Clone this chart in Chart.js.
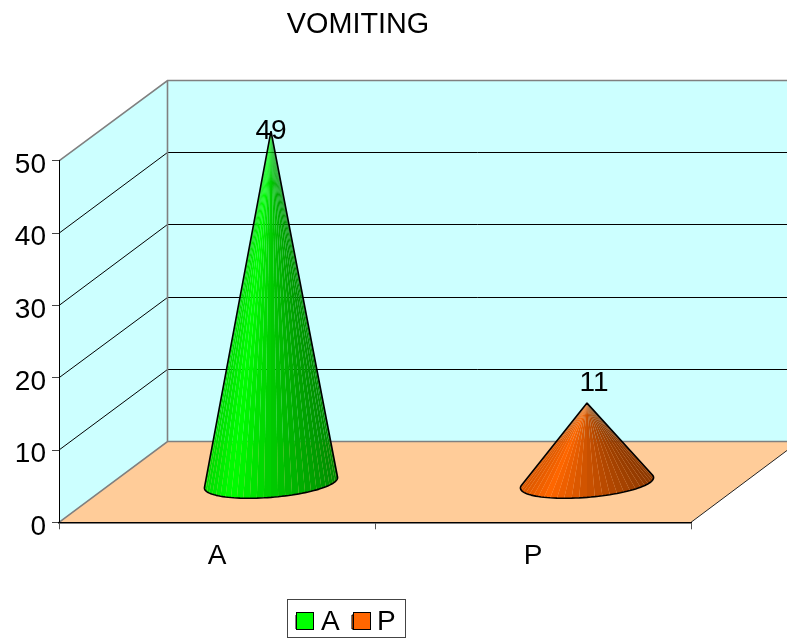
<!DOCTYPE html>
<html>
<head>
<meta charset="utf-8">
<style>html,body{margin:0;padding:0;background:#fff}canvas{display:block}</style>
<script src="https://cdn.jsdelivr.net/npm/chart.js@4"></script>
</head>
<body>
<canvas id="c" width="787" height="639"></canvas>
<script>
const categories = ['A', 'P'];
const values = [49, 11];
const colors = ['#00FF00', '#FF6600'];
const yTicks = [0, 10, 20, 30, 40, 50];
const chartTitle = 'VOMITING';

const FONT = '"Liberation Sans", Arial, sans-serif';
const FS = 28;
const DEPTH_X = 108, DEPTH_Y = 81;      // 3D depth of the box
const CONE_A = 66.8, CONE_B = 14.5, CONE_TILT = -0.082, CONE_N = 30, CONE_DROP = 1;
const LABEL_NUDGE = [{x: 0, y: 0}, {x: 7, y: -20}];

function lerpShade(f) {
  const k = [[0, .86], [.2, 1], [.5, .8], [1, .55]];
  for (let i = 1; i < k.length; i++) {
    if (f <= k[i][0]) {
      const a = k[i - 1], b = k[i];
      return a[1] + (b[1] - a[1]) * (f - a[0]) / (b[0] - a[0]);
    }
  }
  return k[k.length - 1][1];
}
function shadeHex(hex, k) {
  const n = parseInt(hex.slice(1), 16);
  return `rgb(${Math.round((n >> 16 & 255) * k)},${Math.round((n >> 8 & 255) * k)},${Math.round((n & 255) * k)})`;
}

function drawBox(chart) {
  const {ctx, chartArea: a, scales: {y}} = chart;
  const L = a.left, R = a.right, B = a.bottom, T = y.getPixelForValue(50);
  const backB = Math.round(B - DEPTH_Y) + .5, backT = Math.round(T - DEPTH_Y) + .5, backL = L + DEPTH_X + .5;
  ctx.save();
  // walls
  ctx.fillStyle = '#CCFFFF';
  ctx.beginPath();
  ctx.rect(backL, backT, R - L, backB - backT);
  ctx.fill();
  ctx.beginPath();
  ctx.moveTo(L, B); ctx.lineTo(L, T); ctx.lineTo(backL, backT); ctx.lineTo(backL, backB);
  ctx.closePath();
  ctx.fill();
  // floor
  ctx.fillStyle = '#FFCC99';
  ctx.beginPath();
  ctx.moveTo(L, B); ctx.lineTo(R, B); ctx.lineTo(R + DEPTH_X, backB); ctx.lineTo(backL, backB);
  ctx.closePath();
  ctx.fill();
  // grid lines on walls
  ctx.lineWidth = 1;
  ctx.strokeStyle = '#000';
  yTicks.forEach(v => {
    if (v === 0 || v === 50) return;
    const py = y.getPixelForValue(v);
    const by = Math.round(backB - (B - py) * (backB - backT) / (B - T) - .5) + .5;
    ctx.beginPath();
    ctx.moveTo(L, py);
    ctx.lineTo(backL, by);
    ctx.lineTo(R + DEPTH_X, by);
    ctx.stroke();
  });
  // wall frame
  ctx.strokeStyle = '#808080';
  ctx.lineWidth = 1.6;
  ctx.beginPath();
  ctx.moveTo(L, T); ctx.lineTo(backL, backT); ctx.lineTo(R + DEPTH_X, backT);
  ctx.moveTo(backL, backT); ctx.lineTo(backL, backB);
  ctx.moveTo(L, B); ctx.lineTo(backL, backB); ctx.lineTo(R + DEPTH_X, backB);
  ctx.stroke();
  // floor front-right edge
  ctx.strokeStyle = '#222';
  ctx.lineWidth = 1;
  ctx.beginPath();
  ctx.moveTo(R, B); ctx.lineTo(R + DEPTH_X, backB);
  ctx.stroke();
  ctx.restore();
}

function drawCone(ctx, cx, baseY, apexY, color) {
  const ct = Math.cos(CONE_TILT), st = Math.sin(CONE_TILT);
  const pt = t => {
    const u = CONE_A * Math.cos(t), v = CONE_B * Math.sin(t);
    return [cx + u * ct - v * st, baseY + u * st + v * ct];
  };
  // silhouette tangents from the apex
  const dy = apexY - baseY;
  const ux = (dy * st) / CONE_A, uy = (dy * ct) / CONE_B;
  const r = Math.hypot(ux, uy), phi = Math.atan2(uy, ux), d = Math.acos(1 / r);
  const t1 = phi + d, t2 = phi - d + Math.PI * 2;
  const p1 = pt(t1), p2 = pt(t2);
  const xMin = Math.min(p1[0], p2[0]), xMax = Math.max(p1[0], p2[0]);
  for (let i = 0; i < CONE_N; i++) {
    const a = t1 + (t2 - t1) * i / CONE_N, b = t1 + (t2 - t1) * (i + 1) / CONE_N;
    const pa = pt(a), pb = pt(b);
    const f = ((pa[0] + pb[0]) / 2 - xMin) / (xMax - xMin);
    ctx.fillStyle = shadeHex(color, lerpShade(f));
    ctx.beginPath();
    ctx.moveTo(cx, apexY); ctx.lineTo(pa[0], pa[1]); ctx.lineTo(pb[0], pb[1]);
    ctx.closePath();
    ctx.fill();
  }
  ctx.strokeStyle = '#000';
  ctx.lineWidth = 1.6;
  ctx.lineJoin = 'bevel';
  ctx.beginPath();
  ctx.moveTo(cx, apexY);
  for (let i = 0; i <= 60; i++) {
    const p = pt(t1 + (t2 - t1) * i / 60);
    ctx.lineTo(p[0], p[1]);
  }
  ctx.closePath();
  ctx.stroke();
}

const box3d = {
  id: 'box3d',
  afterLayout(chart) {
    const t = chart.titleBlock;
    t.left = 0; t.right = 716; t.top = 8; t.bottom = 42;
    const l = chart.legend;
    l.left = 283.7; l.right = 420; l.top = 595.7; l.bottom = 650;
  },
  beforeDraw(chart) { drawBox(chart); },
  beforeDatasetDraw(chart, args) {
    const {ctx, scales: {y}} = chart;
    const meta = args.meta;
    const baseY = y.getPixelForValue(0) - DEPTH_Y / 2;
    ctx.save();
    meta.data.forEach((el, i) => {
      const apexY = baseY - (y.getPixelForValue(0) - el.y) * 0.99;
      drawCone(ctx, el.x + DEPTH_X / 2, baseY + CONE_DROP, apexY, colors[i]);
    });
    ctx.restore();
    return false;
  },
  afterDatasetsDraw(chart) {
    const {ctx, scales: {y}} = chart;
    const meta = chart.getDatasetMeta(0);
    const baseY = y.getPixelForValue(0) - DEPTH_Y / 2;
    ctx.save();
    ctx.font = `${FS}px ${FONT}`;
    ctx.fillStyle = '#000';
    ctx.textAlign = 'center';
    ctx.textBaseline = 'middle';
    meta.data.forEach((el, i) => {
      const apexY = baseY - (y.getPixelForValue(0) - el.y) * 0.99;
      ctx.fillText(String(values[i]), el.x + DEPTH_X / 2 + LABEL_NUDGE[i].x, apexY + LABEL_NUDGE[i].y);
    });
    ctx.restore();
  },
  afterDraw(chart) {
    const {ctx} = chart;
    ctx.save();
    ctx.strokeStyle = '#444';
    ctx.lineWidth = 1;
    ctx.strokeRect(287.5, 599.5, 118, 38);
    categories.forEach((c, i) => {
      const sx = 296 + i * 57;
      ctx.fillStyle = colors[i];
      ctx.fillRect(sx, 612, 18, 18);
      ctx.strokeStyle = '#000';
      ctx.lineWidth = 1;
      ctx.strokeRect(sx + .5, 612.5, 17, 17);
    });
    ctx.restore();
  }
};

new Chart(document.getElementById('c'), {
  type: 'bar',
  data: {
    labels: categories,
    datasets: [{label: 'Vomiting', data: values, backgroundColor: colors, borderColor: '#000', borderWidth: 1}]
  },
  plugins: [box3d],
  options: {
    responsive: false,
    animation: false,
    layout: {padding: {left: 0, right: 96, top: 126.4, bottom: 6.4}},
    plugins: {
      tooltip: {enabled: false},
      title: {
        display: true, text: chartTitle, color: '#000',
        font: {family: FONT, size: 28.8, weight: 'normal'},
        padding: {top: 0, bottom: 0}
      },
      legend: {
        display: true, position: 'bottom', align: 'start',
        labels: {
          boxWidth: 11, boxHeight: 14, padding: 12.3, color: '#000',
          font: {family: FONT, size: FS},
          generateLabels: () => categories.map((c, i) => ({
            text: c, fillStyle: colors[i], strokeStyle: '#000', lineWidth: 1, hidden: false, index: i
          }))
        }
      }
    },
    scales: {
      x: {
        type: 'category',
        afterFit: s => { s.height = 60; },
        grid: {offset: true, drawOnChartArea: false, drawTicks: true, tickLength: 7, tickColor: '#555'},
        border: {display: true, color: '#000', width: 1.6},
        ticks: {color: '#000', font: {family: FONT, size: FS}, padding: 10, maxRotation: 0}
      },
      y: {
        type: 'linear', min: 0, max: 50,
        afterFit: s => { s.width = 59; },
        grid: {drawOnChartArea: false, drawTicks: true, tickLength: 7, tickColor: '#444'},
        border: {display: true, color: '#000', width: 1},
        ticks: {color: '#000', font: {family: FONT, size: FS}, padding: 6, stepSize: 10, labelOffset: 4.5}
      }
    }
  }
});
</script>
</body>
</html>
